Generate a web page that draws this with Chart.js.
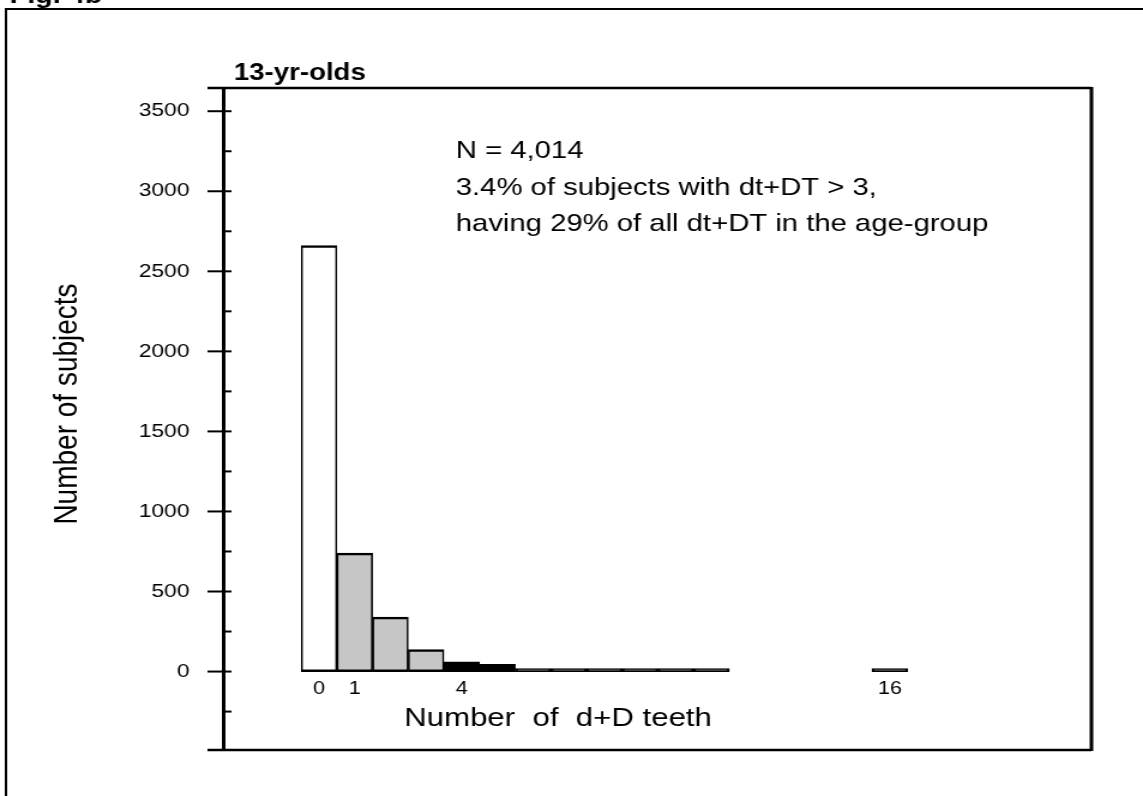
<!DOCTYPE html>
<html>
<head>
<meta charset="utf-8">
<script src="https://cdn.jsdelivr.net/npm/chart.js@4.4.0/dist/chart.umd.min.js"></script>
<style>
  html, body { margin: 0; padding: 0; background: #fff; overflow: hidden; }
  #c { display: block; }
</style>
</head>
<body>
<!-- the scanned figure is wider than it is tall, so the canvas is drawn narrow and stretched -->
<canvas id="c" width="953" height="796" style="width:1143px;height:796px"></canvas>
<script>
// number of d+D teeth per subject and how many subjects had that count
const teeth    = [0, 1, 2, 3, 4, 5, 6, 7, 8, 9, 10, 11, 16];
const subjects = [2660, 740, 340, 138, 60, 45, 12, 8, 4, 3, 2, 1, 1];

const xTickLabels = [0, 1, 4, 16];
const yTickLabels = [0, 500, 1000, 1500, 2000, 2500, 3000, 3500];
const yMinorTicks = [-250, 250, 750, 1250, 1750, 2250, 2750, 3250];

const notes = [
  "N = 4,014",
  "3.4% of subjects with dt+DT > 3,",
  "having 29% of all dt+DT in the age-group"
];

const FONT = '"Liberation Sans", Arial, Helvetica, sans-serif';

const canvas = document.getElementById("c");

const barColor = (t) => (t === 0 ? "#ffffff" : t <= 3 ? "#c6c6c6" : "#000000");

const decor = {
  id: "decor",
  beforeDraw(chart) {
    const c = chart.ctx;
    c.save();
    c.fillStyle = "#fff";
    c.fillRect(0, 0, chart.width, chart.height);
    c.restore();
  },
  afterDraw(chart) {
    const c = chart.ctx;
    const a = chart.chartArea;
    const y = chart.scales.y;
    c.save();
    c.strokeStyle = "#000";
    c.fillStyle = "#000";

    // outer page frame + cut off figure number
    c.lineWidth = 2;
    c.beginPath();
    c.moveTo(5, chart.height);
    c.lineTo(5, 9);
    c.lineTo(chart.width, 9);
    c.stroke();
    c.font = "bold 24px " + FONT;
    c.textBaseline = "alphabetic";
    c.textAlign = "left";
    c.fillText("Fig. 4b", 8, 3);

    // plot box
    c.lineWidth = 2.5;
    c.beginPath();
    c.moveTo(a.left - 13, a.top);
    c.lineTo(a.right, a.top);
    c.moveTo(a.left - 13, a.bottom);
    c.lineTo(a.right, a.bottom);
    c.stroke();
    c.lineWidth = 3;
    c.beginPath();
    c.moveTo(a.right, a.top - 1);
    c.lineTo(a.right, a.bottom + 1);
    c.stroke();

    // y ticks: major ones cross the axis, minor ones point inward
    c.lineWidth = 2;
    y.ticks.forEach((t, i) => {
      const py = y.getPixelForTick(i);
      const major = yTickLabels.includes(t.value);
      c.beginPath();
      c.moveTo(major ? a.left - 13 : a.left, py);
      c.lineTo(a.left + 7, py);
      c.stroke();
    });

    // panel title
    c.font = "bold 23px " + FONT;
    c.fillText("13-yr-olds", 195, 80);

    // notes
    c.font = "24.4px " + FONT;
    const base = [158, 195, 231];
    notes.forEach((s, i) => c.fillText(s, 380, base[i]));

    // axis titles
    c.font = "26px " + FONT;
    c.fillText("Number  of  d+D teeth", 337, 726);

    c.translate(56, 404);
    c.rotate(-Math.PI / 2);
    c.textAlign = "center";
    c.textBaseline = "middle";
    c.font = "28px " + FONT;
    c.fillText("Number of subjects", 0, 0);
    c.restore();
  }
};

new Chart(canvas, {
  type: "bar",
  data: {
    datasets: [
      {
        data: teeth.map((t, i) => ({ x: t, y: subjects[i] })),
        backgroundColor: teeth.map(barColor),
        borderColor: "#000",
        borderWidth: { top: 2.5, bottom: 2.5, left: 1.6, right: 1.6 },
        borderSkipped: false,
        minBarLength: 3,
        barPercentage: 1,
        categoryPercentage: 1
      }
    ]
  },
  options: {
    responsive: false,
    animation: false,
    devicePixelRatio: 1,
    events: [],
    layout: { padding: { top: 88, right: 43, bottom: 46, left: 0 } },
    plugins: {
      legend: { display: false },
      tooltip: { enabled: false },
      title: { display: false }
    },
    scales: {
      x: {
        type: "linear",
        min: -2.69,
        max: 21.65,
        offset: false,
        position: { y: 0 },
        grid: { display: false },
        border: { display: false },
        afterBuildTicks: (s) => {
          s.ticks = xTickLabels.map((v) => ({ value: v }));
        },
        ticks: {
          autoSkip: false,
          maxRotation: 0,
          padding: -1,
          color: "#000",
          font: { family: FONT, size: 18 },
          callback: (v) => String(v)
        }
      },
      y: {
        min: -490,
        max: 3645,
        grid: { display: false },
        border: { display: true, color: "#000", width: 3 },
        afterBuildTicks: (s) => {
          s.ticks = yTickLabels
            .concat(yMinorTicks)
            .sort((m, n) => m - n)
            .map((v) => ({ value: v }));
        },
        afterFit: (s) => {
          s.width = 186;
        },
        ticks: {
          autoSkip: false,
          padding: 20,
          color: "#000",
          font: { family: FONT, size: 19 },
          callback: (v) => (yTickLabels.includes(v) ? String(v) : "")
        }
      }
    }
  },
  plugins: [decor]
});
</script>
</body>
</html>
